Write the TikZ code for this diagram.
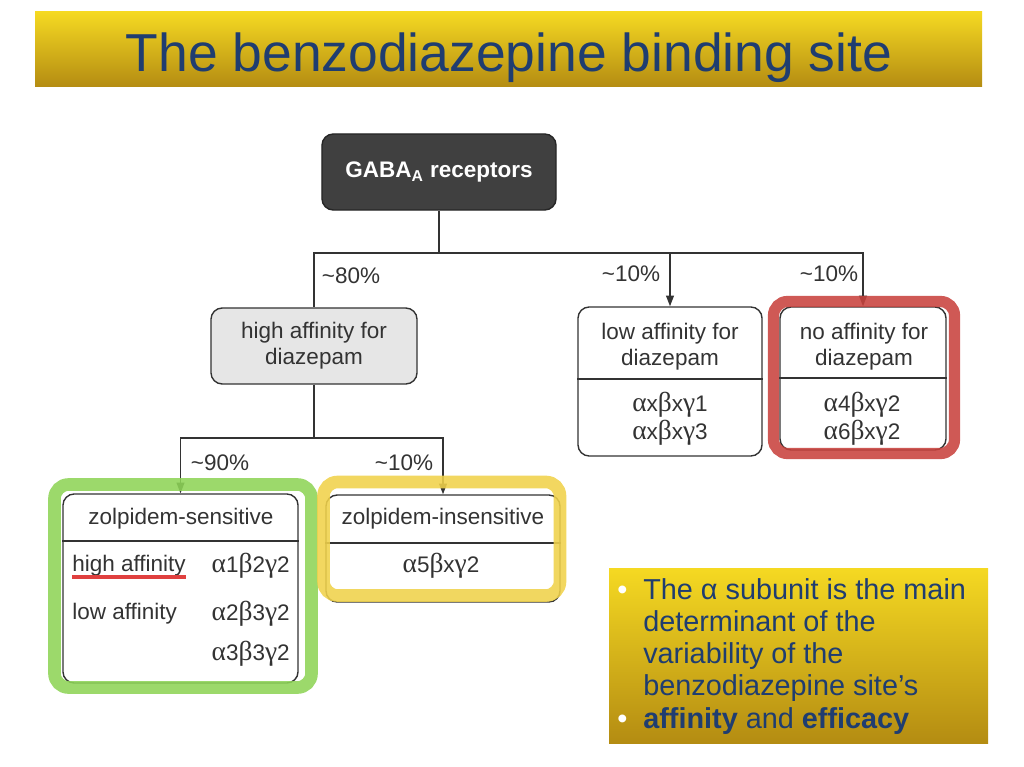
\documentclass[tikz,border=0pt]{standalone}
\usepackage{fontspec}
\setmainfont{Liberation Sans}
\newfontfamily\greekfont[Scale=1.22]{Liberation Serif}
\newcommand\alf{{\greekfont α}}
\newcommand\bet{{\greekfont β}}
\newcommand\gam{{\greekfont γ}}
\usetikzlibrary{arrows.meta}
\definecolor{goldtop}{HTML}{F5D922}
\definecolor{goldbot}{HTML}{B48C12}
\definecolor{slideblue}{HTML}{1F3D70}
\definecolor{boxdark}{HTML}{404040}
\definecolor{boxlight}{HTML}{E6E6E6}
\definecolor{inkgray}{HTML}{333333}
\definecolor{markgreen}{HTML}{8ED457}
\definecolor{markyellow}{HTML}{F0D24A}
\definecolor{markred}{HTML}{C8423D}
\definecolor{underred}{HTML}{E0403F}

\begin{document}
\begin{tikzpicture}
  [x=0.025cm,y=-0.025cm,
   every node/.style={inner sep=0pt,text=inkgray,font=\fontsize{16}{18.5}\selectfont},
   cell/.style={draw=inkgray,line width=1pt,rounded corners=8pt,fill=white},
   wire/.style={draw=inkgray,line width=1pt},
   arrowed/.style={-{Triangle[length=7.5pt,width=5.5pt]}},
   hilite/.style={line width=#1,rounded corners=10pt,opacity=0.88},
   gensub/.style={align=center,font=\fontsize{16}{20}\selectfont}]
  \useasboundingbox (0,0) rectangle (1024,767);

  % title banner
  \shade[top color=goldtop,bottom color=goldbot] (35,12) rectangle (982,87);
  \node[anchor=base,text=slideblue,font=\fontsize{38}{44}\selectfont] (title) at (509,72) {The benzodiazepine binding site};

  % connectors
  \coordinate (fork1) at (439,253);
  \coordinate (fork2) at (314,438);
  \node[cell,fill=boxdark,draw=black!85,minimum width=5.85cm,minimum height=1.9cm,
        text=white,font=\fontsize{16}{18}\selectfont\bfseries] (gaba) at (439,172) {GABA\textsubscript{A} receptors};
  \node[cell,fill=boxlight,minimum width=5.15cm,minimum height=1.9cm,align=center] (high) at (314,346) {high affinity for\\diazepam};
  \draw[wire] (gaba.south) -- (fork1);
  \draw[wire] (fork1) -| (high.north);
  \draw[wire] (high.south) -- (fork2);
  \node[cell,minimum width=4.6cm,minimum height=3.725cm] (low) at (670,381.5) {};
  \node[cell,minimum width=4.15cm,minimum height=3.575cm] (noaff) at (863,378.5) {};
  \node[cell,minimum width=5.875cm,minimum height=4.725cm] (zsens) at (180.5,588.5) {};
  \node[cell,minimum width=5.85cm,minimum height=2.675cm] (zins) at (443,548.5) {};
  \foreach \to in {low,noaff}
    \draw[wire,arrowed] (fork1) -| (\to.north);
  \foreach \to in {zsens,zins}
    \draw[wire,arrowed] (fork2) -| (\to.north);
  \foreach \b/\y in {low/379,noaff/378,zsens/541,zins/543} {
    \coordinate (cut) at (0,\y);
    \draw[wire] (\b.west |- cut) -- (\b.east |- cut);
  }

  % percentages
  \node (pc80) at (351,276) {\textasciitilde80\%};
  \node (pclow) at (631,274) {\textasciitilde10\%};
  \node (pcno) at (829,274) {\textasciitilde10\%};
  \node (pc90) at (220,463) {\textasciitilde90\%};
  \node (pcins) at (404,463) {\textasciitilde10\%};

  % box contents
  \node[align=center] (lowhead) at (670,347) {low affinity for\\diazepam};
  \node[gensub] (lowsub) at (670,419) {\alf x\bet x\gam 1\\\alf x\bet x\gam 3};
  \node[align=center] (nohead) at (864,347) {no affinity for\\diazepam};
  \node[gensub] (nosub) at (862,419) {\alf 4\bet x\gam 2\\\alf 6\bet x\gam 2};
  \node (zsenshead) at (181,519) {zolpidem-sensitive};
  \node[anchor=west] (hiaff) at (72,566) {high affinity};
  \node[anchor=east] (hisub) at (290,566) {\alf 1\bet 2\gam 2};
  \node[anchor=west] (loaff) at (72,614) {low affinity};
  \node[anchor=east] (losubA) at (290,614) {\alf 2\bet 3\gam 2};
  \node[anchor=east] (losubB) at (290,654) {\alf 3\bet 3\gam 2};
  \node (zinshead) at (443,519) {zolpidem-insensitive};
  \node (zinssub) at (441,566) {\alf 5\bet x\gam 2};

  % highlights
  \draw[hilite=9pt,draw=markgreen] (54.5,484.5) rectangle (311.5,687.5);
  \draw[hilite=9pt,draw=markyellow] (323.5,482) rectangle (560,595.5);
  \draw[hilite=8pt,draw=markred] (773.5,301.5) rectangle (954.5,453.5);
  \draw[line width=3pt,draw=underred] (hiaff.south west) -- (hiaff.south east);

  % note box
  \shade[top color=goldtop,bottom color=goldbot] (609,568) rectangle (988,743);
  \node[anchor=base west,text=white,font=\fontsize{20.5}{22.9}\selectfont] (dotA) at (617,599) {•};
  \node[anchor=base west,text=white,font=\fontsize{20.5}{22.9}\selectfont] (dotB) at (617,728) {•};
  \node[anchor=north west,align=left,text=slideblue,font=\fontsize{20.5}{22.9}\selectfont] (pointA) at (643,578)
    {The α subunit is the main\\determinant of the\\variability of the\\benzodiazepine site’s};
  \node[anchor=north west,text=slideblue,font=\fontsize{20.5}{22.9}\selectfont] (pointB) at (643,707)
    {\textbf{affinity} and \textbf{efficacy}};
\end{tikzpicture}
\end{document}
